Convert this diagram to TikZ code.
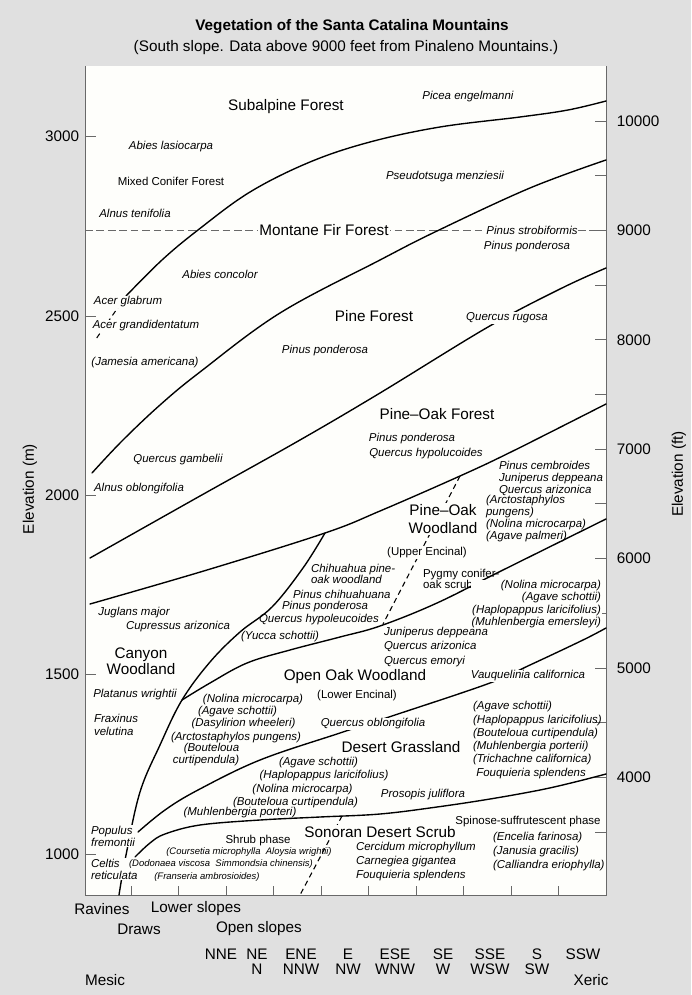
\documentclass[tikz,border=0pt]{standalone}
\usepackage{fontspec}
\setmainfont{Liberation Sans}
\usepackage{tikz}

\definecolor{pagebg}{RGB}{224,224,224}
\definecolor{plotbg}{RGB}{254,254,251}
\definecolor{axisgray}{RGB}{105,105,105}

\begin{document}
\begin{tikzpicture}[x=0.023cm,y=-0.023cm,
    big/.style={font=\fontsize{10}{11.5}\selectfont, inner sep=1pt},
    sm/.style={font=\fontsize{7.5}{8.6}\selectfont, inner sep=0.5pt},
    sp/.style={font=\fontsize{7.5}{8.6}\selectfont\itshape, inner sep=0.5pt},
    spblock/.style={sp, align=left, font=\fontsize{7.5}{#1}\selectfont\itshape},
    spblock/.default=8.8,
    tinysp/.style={font=\fontsize{6.2}{7}\selectfont\itshape, inner sep=0.5pt},
    cover/.style={fill=plotbg},
    zone/.style={line width=0.9pt, line cap=round},
    ecotone/.style={line width=0.7pt, dash pattern=on 3.5pt off 2.5pt},
    axis/.style={axisgray, line width=0.6pt}]

    \useasboundingbox[fill=pagebg] (0,0) rectangle (691,995);
    \fill[plotbg] (85,66) rectangle (606,895);
    \draw[axis] (85,66) -- (85,895) -- (606,895) -- (606,66);

    % ticks
    \foreach \m/\y in {3000/136,2500/316,2000/495,1500/674,1000/854}{
        \draw[axis] (85,\y) -- (96,\y);
        \node[big, anchor=east] (m\m) at (81,\y) {\m};
    }
    \foreach \f in {3500,4000,...,10000}{
        \pgfmathsetmacro\yy{121+(10000-\f)*0.1094}
        \draw[axis] (595,\yy) -- (606,\yy);
    }
    \foreach \f in {4000,5000,...,10000}{
        \pgfmathsetmacro\yy{121+(10000-\f)*0.1094}
        \node[big, anchor=west] (ft\f) at (615,\yy) {\f};
    }
    \foreach \k in {0,...,9}
        \draw[axis] (131+47.5*\k,895) -- (131+47.5*\k,886);

    \node[big] (title) at (352,27) {\bfseries Vegetation of the Santa Catalina Mountains};
    \node[big] (subtitle) at (346,48) {(South slope. Data above 9000 feet from Pinaleno Mountains.)};
    \node[big, rotate=90] (elevm) at (30,489) {Elevation (m)};
    \node[big, rotate=90] (elevft) at (679,474) {Elevation (ft)};

    % boundaries
    \coordinate (jA) at (325,533);
    \coordinate (jB) at (182,700);
    \draw[axisgray, line width=0.6pt, dash pattern=on 5pt off 2.5pt] (85,230) -- (606,230);
    \draw[zone] plot[smooth, tension=0.6] coordinates {(126,296) (162,260) (198,230) (250,192) (310,162) (370,142) (440,127) (520,117) (568,110) (606,101)};
    \draw[ecotone] (126,296) -- (96,339);
    \draw[zone] plot[smooth, tension=0.6] coordinates {(92,473) (122,441) (160,405) (200,372) (280,313) (380,260) (437,231) (530,188) (606,160)};
    \draw[zone] plot[smooth, tension=0.6] coordinates {(90,558) (200,496) (300,440) (380,393) (488,327) (560,289) (606,268)};
    \draw[zone] plot[smooth, tension=0.6] coordinates {(90,604) (207,570) (jA) (380,511) (460,476) (513,451) (606,404)};
    \draw[zone] plot[smooth, tension=0.6] coordinates {(jA) (303,568) (272,607) (240,632) (210,662) (jB) (160,745) (140,792) (126,855) (119,895)};
    \draw[zone] plot[smooth, tension=0.6] coordinates {(jB) (210,683) (247,663) (290,650) (340,637) (380,626) (437,603) (503,570) (606,519)};
    \draw[zone] plot[smooth, tension=0.6] coordinates {(138,832) (165,810) (198,790) (260,760) (340,733) (395,715) (490,683) (530,665) (583,640) (606,628)};
    \draw[zone] plot[smooth, tension=0.6] coordinates {(135,857) (150,843) (165,834) (200,825) (260,820) (320,817) (380,814) (437,807) (490,799) (540,790) (575,782) (606,774)};
    \draw[ecotone] (460,476) -- (383,624);
    \draw[ecotone] (342,816) -- (300,895);

    % zones
    \node[big] (subalpine) at (286,107) {Subalpine Forest};
    \node[big, cover] (montane) at (324,230) {Montane Fir Forest};
    \node[big] (pine) at (374,316) {Pine Forest};
    \node[big] (pineoakf) at (437,414) {Pine–Oak Forest};
    \node[big, cover, align=center, font=\fontsize{10}{11.3}\selectfont] (pineoakw) at (443,519) {Pine–Oak\\Woodland};
    \node[big, align=center, font=\fontsize{10}{10.6}\selectfont] (canyon) at (141,661) {Canyon\\Woodland};
    \node[big] (openoak) at (355,677) {Open Oak Woodland};
    \node[big] (grass) at (401,747) {Desert Grassland};
    \node[big, cover] (sonoran) at (380,832) {Sonoran Desert Scrub};

    \node[sm] (mixed) at (171,181) {Mixed Conifer Forest};
    \node[sm, cover] (upper) at (427,553) {(Upper Encinal)};
    \node[sm, align=left, anchor=west, font=\fontsize{7.5}{7.3}\selectfont] (pygmy) at (422,578.5) {Pygmy conifer-\\oak scrub};
    \node[sm] (lowerenc) at (357,696) {(Lower Encinal)};
    \node[sm] (shrub) at (258,841) {Shrub phase};
    \node[sm] (spinose) at (528,822) {Spinose-suffrutescent phase};

    % species
    \node[sp] (picea) at (468,97) {Picea engelmanni};
    \node[sp] (lasio) at (171,147) {Abies lasiocarpa};
    \node[sp] (alnust) at (135,213) {Alnus tenifolia};
    \node[sp] (pseudo) at (445,177) {Pseudotsuga menziesii};
    \node[sp, cover] (strobi) at (532,230) {Pinus strobiformis};
    \node[sp] (pondA) at (527,247) {Pinus ponderosa};
    \node[sp] (concolor) at (220,274) {Abies concolor};
    \node[sp, cover] (glabrum) at (128,302) {Acer glabrum};
    \node[sp, cover] (grandi) at (146,326) {Acer grandidentatum};
    \node[sp] (jamesia) at (145,363) {(Jamesia americana)};
    \node[sp] (pondB) at (325,351) {Pinus ponderosa};
    \node[sp, cover] (rugosa) at (507,318) {Quercus rugosa};
    \node[sp] (pondC) at (412,439) {Pinus ponderosa};
    \node[sp] (hypolu) at (426,454) {Quercus hypolucoides};
    \node[sp] (gambel) at (178,460) {Quercus gambelii};
    \node[sp] (alnuso) at (139,489) {Alnus oblongifolia};
    \node[spblock=7.6, anchor=west] (cembro) at (498,478.5) {Pinus cembroides\\Juniperus deppeana\\Quercus arizonica};
    \node[spblock=7.7, anchor=west] (arcto) at (485,518.5) {(Arctostaphylos\\pungens)\\(Nolina microcarpa)\\(Agave palmeri)};
    \node[spblock=7.3, anchor=west] (chihua) at (310,573.5) {Chihuahua pine-\\oak woodland};
    \node[sp, anchor=west] (chihuab) at (292,594) {Pinus chihuahuana};
    \node[sp, anchor=west] (pondD) at (281,607) {Pinus ponderosa};
    \node[sp, anchor=west] (hypoleu) at (258,620) {Quercus hypoleucoides};
    \node[sp] (yucca) at (280,637) {(Yucca schottii)};
    \node[sp] (juglans) at (134,613) {Juglans major};
    \node[sp] (cupress) at (178,627) {Cupressus arizonica};
    \node[spblock=9.2, anchor=west] (junip) at (383,647) {Juniperus deppeana\\Quercus arizonica\\Quercus emoryi};
    \node[spblock=7.9, align=right, anchor=east, cover] (nolinaR) at (602,604) {(Nolina microcarpa)\\(Agave schottii)\\(Haplopappus laricifolius)\\(Muhlenbergia emersleyi)};
    \node[sp, cover] (vauq) at (528,676) {Vauquelinia californica};
    \node[sp] (platan) at (135,695) {Platanus wrightii};
    \node[spblock, anchor=west] (fraxin) at (93,725) {Fraxinus\\velutina};
    \node[sp] (nolinaL) at (253,700) {(Nolina microcarpa)};
    \node[sp] (agaveL) at (237.5,712) {(Agave schottii)};
    \node[sp] (dasyl) at (243.5,724) {(Dasylirion wheeleri)};
    \node[sp] (arctoL) at (236,738) {(Arctostaphylos pungens)};
    \node[sp] (boutA) at (211.5,749) {(Bouteloua};
    \node[sp] (boutB) at (206,761) {curtipendula)};
    \node[sp, cover] (oblong) at (373,724) {Quercus oblongifolia};
    \node[sp] (agaveM) at (318.5,763) {(Agave schottii)};
    \node[sp] (haploM) at (324,776) {(Haplopappus laricifolius)};
    \node[sp] (nolinaM) at (302.5,790) {(Nolina microcarpa)};
    \node[sp] (boutM) at (295.5,803) {(Bouteloua curtipendula)};
    \node[sp] (muhlM) at (240,813) {(Muhlenbergia porteri)};
    \node[spblock=8.7, anchor=west] (agaveR) at (472,740) {(Agave schottii)\\(Haplopappus laricifolius)\\(Bouteloua curtipendula)\\(Muhlenbergia porterii)\\(Trichachne californica)\\\ Fouquieria splendens};
    \node[sp] (prosop) at (423,795) {Prosopis juliflora};
    \node[spblock=7.9, anchor=west, cover] (populus) at (90,836) {Populus\\fremontii};
    \node[spblock=7.9, anchor=west, cover] (celtis) at (90,869) {Celtis\\reticulata};
    \node[tinysp] (cours) at (249,852) {(Coursetia microphylla\ \ Aloysia wrightii)};
    \node[tinysp] (dodon) at (221,864) {(Dodonaea viscosa\ \ Simmondsia chinensis)};
    \node[tinysp] (fransr) at (207,877) {(Franseria ambrosioides)};
    \node[spblock=8.9, anchor=west] (cercid) at (355,861.5) {Cercidum microphyllum\\Carnegiea gigantea\\Fouquieria splendens};
    \node[spblock=8.9, anchor=west] (encel) at (492,851.5) {(Encelia farinosa)\\(Janusia gracilis)\\(Calliandra eriophylla)};

    % site and aspect
    \node[big] (ravines) at (102,909) {Ravines};
    \node[big] (lowslope) at (196,909) {Lower slopes};
    \node[big] (draws) at (139,929) {Draws};
    \node[big] (openslope) at (259,929) {Open slopes};
    \node[big] (nne) at (221,954) {NNE};
    \foreach \x/\a/\b in {257/NE/N,301/ENE/NNW,348/E/NW,395/ESE/WNW,443/SE/W,490/SSE/WSW,537/S/SW}{
        \node[big] (top\x) at (\x,954) {\a};
        \node[big] (bot\x) at (\x,969) {\b};
    }
    \node[big] (ssw) at (583,954) {SSW};
    \node[big] (mesic) at (105,980) {Mesic};
    \node[big] (xeric) at (591,980) {Xeric};
\end{tikzpicture}
\end{document}
